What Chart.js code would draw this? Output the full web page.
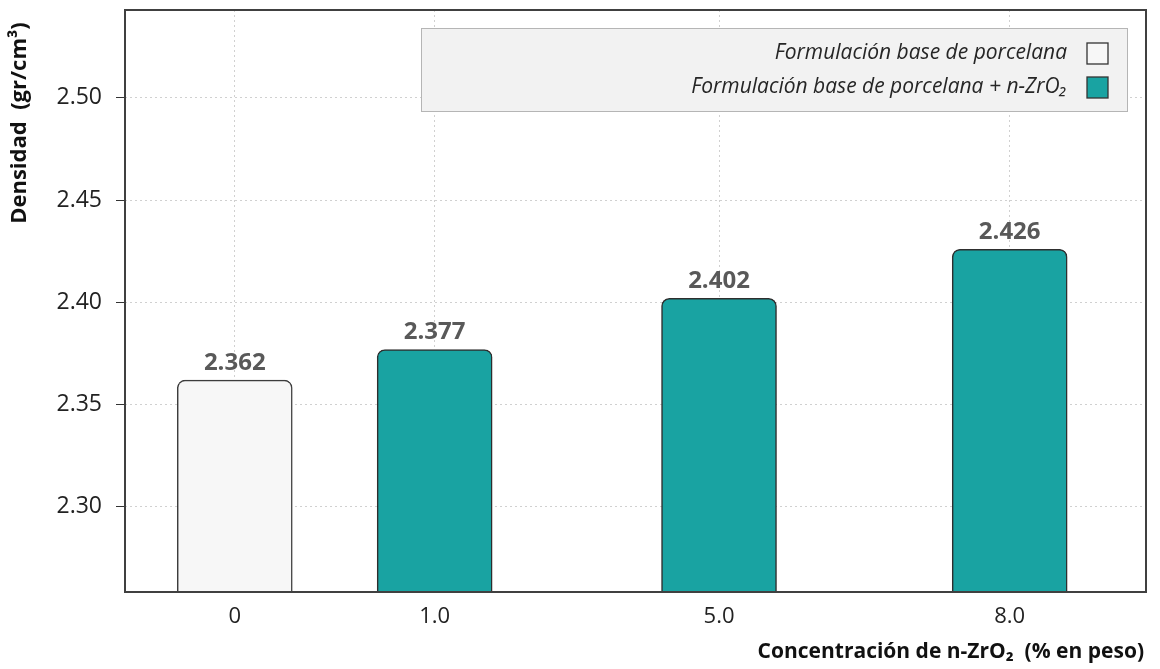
<!DOCTYPE html>
<html>
<head>
<meta charset="utf-8">
<script src="https://cdn.jsdelivr.net/npm/chart.js@4.4.0/dist/chart.umd.min.js"></script>
<style>
  html, body { margin: 0; padding: 0; background: #fff; }
  #wrap { width: 1160px; height: 669px; }
</style>
</head>
<body>
<div id="wrap"><canvas id="densityChart"></canvas></div>
<script>
const categories = ['0', '1.0', '5.0', '8.0'];
const baseValues = [2.362, null, null, null];
const zrValues = [null, 2.377, 2.402, 2.426];
const yTicks = [2.30, 2.35, 2.40, 2.45, 2.50];
const seriesNames = ['Formulación base de porcelana', 'Formulación base de porcelana + n-ZrO₂'];

// where each category sits along the x axis (0..1 of the plot width)
const slots = [0.1075, 0.3033, 0.5818, 0.8665];

const toPoints = vals => vals.map((v, i) => ({ x: slots[i], y: v })).filter(p => p.y !== null);

const FONT = '"Open Sans", "DejaVu Sans", sans-serif';

const framePlugin = {
    id: 'frame',
    afterDraw(chart) {
        const { ctx, chartArea: a } = chart;
        ctx.save();
        ctx.strokeStyle = '#404040';
        ctx.lineWidth = 2;
        ctx.strokeRect(a.left, a.top, a.right - a.left, a.bottom - a.top);
        ctx.restore();
    }
};

const valueLabels = {
    id: 'valueLabels',
    afterDatasetsDraw(chart) {
        const ctx = chart.ctx;
        ctx.save();
        ctx.font = 'bold 24px ' + FONT;
        ctx.fillStyle = '#595959';
        ctx.textAlign = 'center';
        ctx.textBaseline = 'alphabetic';
        chart.data.datasets.forEach((ds, di) => {
            chart.getDatasetMeta(di).data.forEach((bar, i) => {
                ctx.fillText(ds.data[i].y.toFixed(3), bar.x, bar.y - 10);
            });
        });
        ctx.restore();
    }
};

const boxLegend = {
    id: 'boxLegend',
    afterDraw(chart) {
        const ctx = chart.ctx;
        ctx.save();
        ctx.fillStyle = '#f2f2f2';
        ctx.strokeStyle = '#b5b5b5';
        ctx.lineWidth = 1;
        ctx.fillRect(421, 28, 706, 83);
        ctx.strokeRect(421.5, 28.5, 706, 83);
        ctx.font = 'italic 21px ' + FONT;
        ctx.textAlign = 'right';
        ctx.textBaseline = 'middle';
        chart.data.datasets.forEach((ds, i) => {
            const cy = 53 + i * 34;
            ctx.fillStyle = '#262626';
            ctx.fillText(ds.label, 1067, cy);
            ctx.fillStyle = ds.backgroundColor;
            ctx.fillRect(1087, cy - 10, 21, 21);
            ctx.strokeStyle = '#333';
            ctx.lineWidth = 1.3;
            ctx.strokeRect(1087, cy - 10, 21, 21);
        });
        ctx.restore();
    }
};

const axisTitles = {
    id: 'axisTitles',
    afterDraw(chart) {
        const ctx = chart.ctx;
        ctx.save();
        ctx.fillStyle = '#111';
        ctx.font = 'bold 22px ' + FONT;
        ctx.textBaseline = 'middle';
        ctx.translate(20, 123);
        ctx.rotate(-Math.PI / 2);
        ctx.textAlign = 'center';
        ctx.fillText('Densidad  (gr/cm³)', 0, 0);
        ctx.restore();

        ctx.save();
        ctx.fillStyle = '#111';
        ctx.font = 'bold 21px ' + FONT;
        ctx.textAlign = 'right';
        ctx.textBaseline = 'middle';
        ctx.fillText('Concentración de n-ZrO₂  (% en peso)', 1144, 652);
        ctx.restore();
    }
};

const ctx = document.getElementById('densityChart').getContext('2d');
new Chart(ctx, {
    type: 'bar',
    data: {
        datasets: [{
            label: seriesNames[0],
            data: toPoints(baseValues),
            backgroundColor: '#f7f7f7',
            borderColor: '#3c3c3c',
        }, {
            label: seriesNames[1],
            data: toPoints(zrValues),
            backgroundColor: '#19a3a2',
            borderColor: '#2e2e2e',
        }],
    },
    options: {
        responsive: true,
        maintainAspectRatio: false,
        animation: false,
        layout: { padding: { top: 10, right: 14, left: 0, bottom: 0 } },
        datasets: {
            bar: {
                grouped: false,
                barThickness: 115,
                borderWidth: 1.5,
                borderRadius: 8,
                borderSkipped: false,
            }
        },
        plugins: {
            legend: { display: false },
            tooltip: { enabled: false },
        },
        scales: {
            x: {
                type: 'linear',
                min: 0,
                max: 1,
                offset: false,
                afterBuildTicks: s => { s.ticks = slots.map(v => ({ value: v })); },
                afterFit: s => { s.height = 77; s.paddingLeft = 0; s.paddingRight = 0; },
                border: { display: false, dash: [2, 3] },
                grid: { color: '#d0d0d0', offset: false, drawTicks: false },
                ticks: {
                    padding: 12,
                    color: '#222',
                    font: { family: FONT, size: 22 },
                    maxRotation: 0,
                    callback: (v) => categories[slots.indexOf(v)],
                },
            },
            y: {
                min: 2.2584,
                max: 2.543,
                afterBuildTicks: s => { s.ticks = yTicks.map(v => ({ value: v })); },
                afterFit: s => { s.width = 125; s.paddingTop = 0; s.paddingBottom = 0; },
                border: { display: false, dash: [2, 3] },
                grid: { color: '#d0d0d0', tickLength: 9, tickColor: '#333', tickBorderDash: [] },
                ticks: {
                    padding: 14,
                    color: '#222',
                    font: { family: FONT, size: 23 },
                    callback: v => v.toFixed(2),
                },
            },
        },
    },
    plugins: [framePlugin, valueLabels, boxLegend, axisTitles],
});
</script>
</body>
</html>
